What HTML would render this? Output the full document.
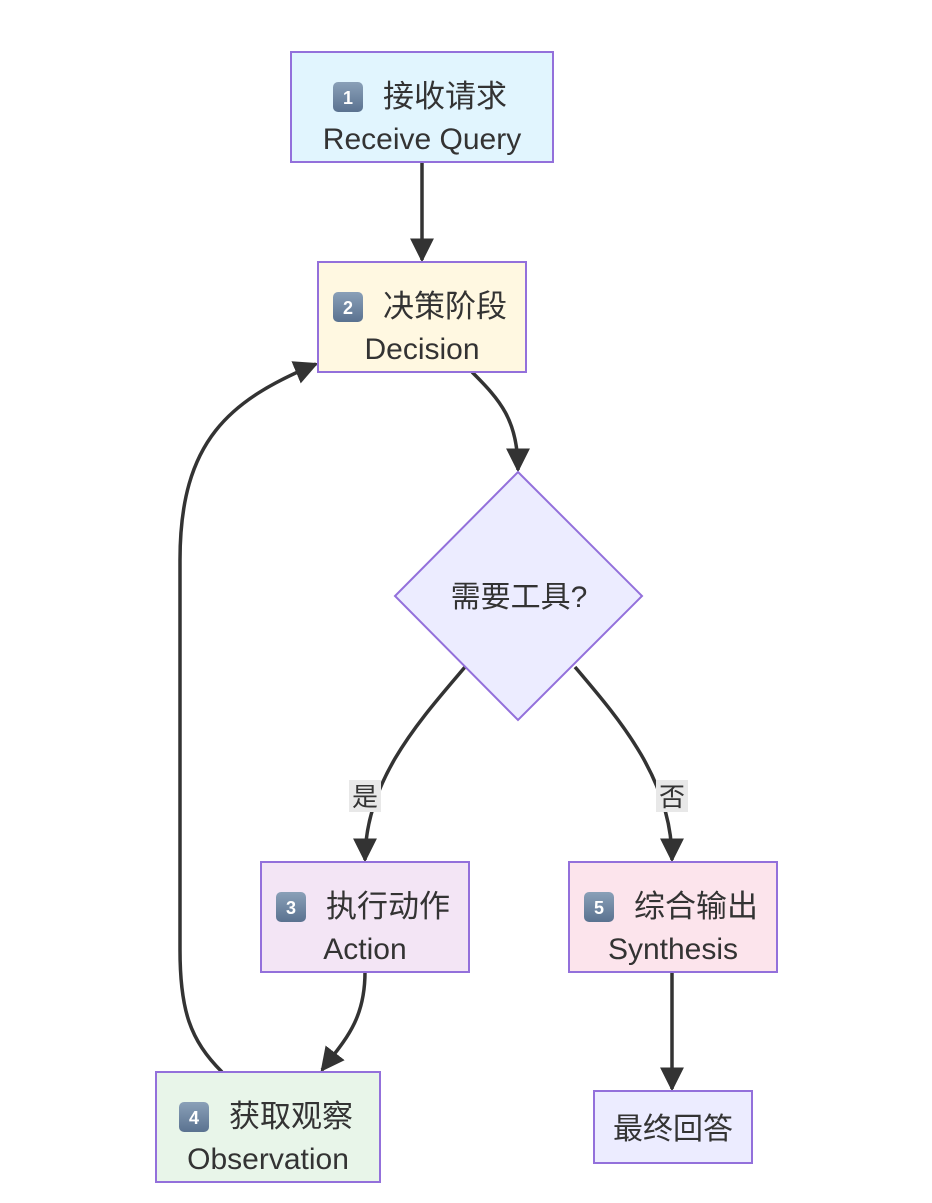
<!DOCTYPE html>
<html><head><meta charset="utf-8"><style>
html,body{margin:0;padding:0;background:#fff;}
svg text{font-family:"Liberation Sans","Noto Sans CJK SC",sans-serif;fill:#333;}
</style></head><body>
<svg width="932" height="1198" viewBox="0 0 932 1198" xmlns="http://www.w3.org/2000/svg">
<defs>
<marker id="b" viewBox="0 0 10 10" refX="9" refY="5" markerWidth="24" markerHeight="24" markerUnits="userSpaceOnUse" orient="auto">
<path d="M0,0 L10,5 L0,10 z" fill="#333"/></marker>
<linearGradient id="k" x1="0" y1="0" x2="0" y2="1"><stop offset="0" stop-color="#8aa0b8"/><stop offset="1" stop-color="#5a7290"/></linearGradient>
</defs>
<g fill="none" stroke="#333" stroke-width="3.5">
<path d="M422,162 L422,260" marker-end="url(#b)"/>
<path d="M472,372 C500,400 518,420 518,470" marker-end="url(#b)"/>
<path d="M465,667 C420,720 365,780 365,860" marker-end="url(#b)"/>
<path d="M575,667 C620,720 672,780 672,860" marker-end="url(#b)"/>
<path d="M365,972 C365,1020 345,1040 322,1070" marker-end="url(#b)"/>
<path d="M222,1072 C190,1040 180,1010 180,950 L180,560 C180,440 230,400 316,364" marker-end="url(#b)"/>
<path d="M672,972 L672,1089" marker-end="url(#b)"/>
</g>
<rect x="291" y="52" width="262" height="110" fill="#e1f5fe" stroke="#9370db" stroke-width="2"/>
<rect x="318" y="262" width="208" height="110" fill="#fff8e1" stroke="#9370db" stroke-width="2"/>
<polygon points="518,472 642,596 518,720 395,596" fill="#ececff" stroke="#9370db" stroke-width="2"/>
<rect x="261" y="862" width="208" height="110" fill="#f3e5f5" stroke="#9370db" stroke-width="2"/>
<rect x="569" y="862" width="208" height="110" fill="#fce4ec" stroke="#9370db" stroke-width="2"/>
<rect x="156" y="1072" width="224" height="110" fill="#e8f5e9" stroke="#9370db" stroke-width="2"/>
<rect x="594" y="1091" width="158" height="72" fill="#ececff" stroke="#9370db" stroke-width="2"/>
<rect x="349" y="780" width="32" height="32" fill="#e8e8e8"/>
<rect x="656" y="780" width="32" height="32" fill="#e8e8e8"/>
<text x="365" y="806" font-size="26" text-anchor="middle">是</text>
<text x="672" y="806" font-size="26" text-anchor="middle">否</text>
<g font-size="30" text-anchor="middle">
<text x="519" y="607">需要工具?</text>
<text x="673" y="1139">最终回答</text>
<text x="422" y="149">Receive Query</text>
<text x="422" y="359">Decision</text>
<text x="365" y="959">Action</text>
<text x="673" y="959">Synthesis</text>
<text x="268" y="1169">Observation</text>
</g>
<g font-size="31">
<text x="383" y="107">接收请求</text>
<text x="383" y="317">决策阶段</text>
<text x="326" y="917">执行动作</text>
<text x="634" y="917">综合输出</text>
<text x="229" y="1127">获取观察</text>
</g>
<g font-size="18" font-weight="bold" text-anchor="middle">
<rect x="333" y="82" width="30" height="30" rx="5" fill="url(#k)"/><text x="348" y="104" style="fill:#fff">1</text>
<rect x="333" y="292" width="30" height="30" rx="5" fill="url(#k)"/><text x="348" y="314" style="fill:#fff">2</text>
<rect x="276" y="892" width="30" height="30" rx="5" fill="url(#k)"/><text x="291" y="914" style="fill:#fff">3</text>
<rect x="584" y="892" width="30" height="30" rx="5" fill="url(#k)"/><text x="599" y="914" style="fill:#fff">5</text>
<rect x="179" y="1102" width="30" height="30" rx="5" fill="url(#k)"/><text x="194" y="1124" style="fill:#fff">4</text>
</g>
</svg>
</body></html>
